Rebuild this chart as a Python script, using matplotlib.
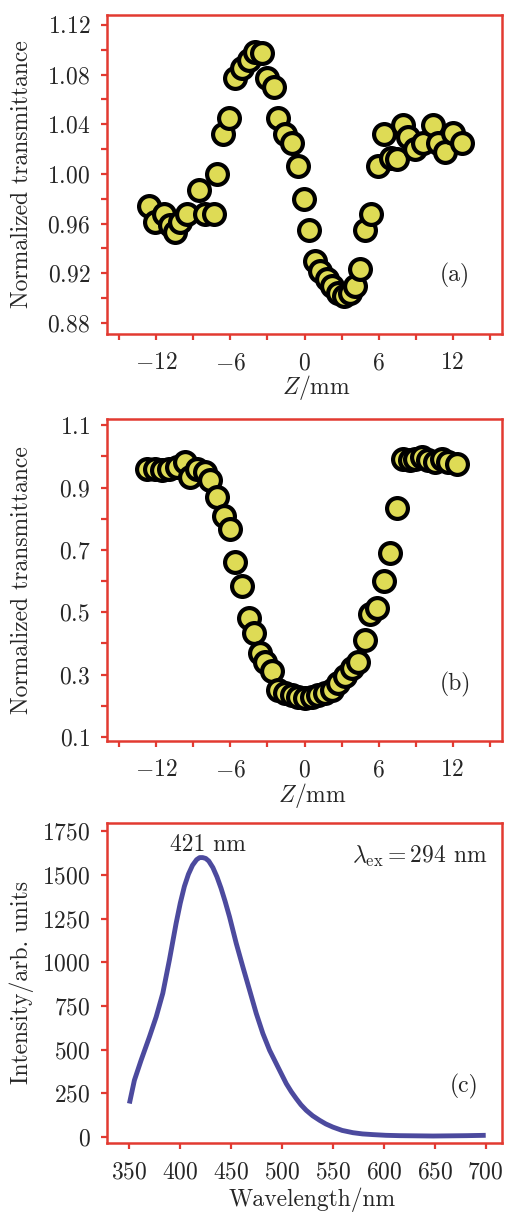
import numpy as np
import matplotlib
matplotlib.use("Agg")
import matplotlib.pyplot as plt
from matplotlib.ticker import MultipleLocator

plt.rcParams['font.family'] = 'serif'
plt.rcParams['font.serif'] = ['cmr10']
plt.rcParams['mathtext.fontset'] = 'cm'
plt.rcParams['axes.formatter.use_mathtext'] = True

# panel (a)
za = [-12.63, -12.09, -11.42, -10.87, -10.53, -10.06, -9.53, -8.58, -8.04, -7.37,
      -7.10, -6.64, -6.10, -5.61, -5.08, -4.53, -3.99, -3.46, -3.05, -2.51,
      -2.11, -1.56, -1.03, -0.54, -0.08, 0.38, 0.87, 1.27, 1.81, 2.21,
      2.75, 3.24, 3.70, 4.11, 4.51, 4.91, 5.40, 5.94, 6.48, 7.02,
      7.47, 7.94, 8.42, 8.96, 9.64, 10.45, 10.85, 11.39, 12.06, 12.74]
ta = [0.974, 0.961, 0.968, 0.959, 0.953, 0.961, 0.968, 0.987, 0.968, 0.968,
      1.000, 1.032, 1.045, 1.077, 1.085, 1.092, 1.098, 1.097, 1.077, 1.070,
      1.045, 1.032, 1.025, 1.006, 0.980, 0.955, 0.930, 0.922, 0.915, 0.910,
      0.904, 0.902, 0.904, 0.910, 0.923, 0.955, 0.968, 1.006, 1.032, 1.013,
      1.012, 1.039, 1.030, 1.020, 1.025, 1.039, 1.025, 1.018, 1.033, 1.025]

# panel (b)
zb = [-12.77, -12.09, -11.55, -11.01, -10.34, -9.66, -9.26, -8.72, -8.04, -7.64,
      -7.10, -6.56, -6.02, -5.61, -5.08, -4.53, -4.13, -3.59, -3.18, -2.65,
      -2.11, -1.56, -1.03, -0.49, 0.05, 0.59, 1.13, 1.67, 2.21, 2.75,
      3.29, 3.83, 4.37, 4.91, 5.32, 5.85, 6.40, 6.94, 7.47, 8.02,
      8.56, 8.96, 9.50, 10.04, 10.58, 11.12, 11.66, 12.33]
tb = [0.960, 0.960, 0.955, 0.960, 0.965, 0.982, 0.933, 0.960, 0.950, 0.923,
      0.869, 0.810, 0.767, 0.661, 0.584, 0.482, 0.433, 0.369, 0.342, 0.310,
      0.251, 0.240, 0.236, 0.229, 0.224, 0.229, 0.236, 0.240, 0.251, 0.272,
      0.294, 0.321, 0.342, 0.410, 0.496, 0.514, 0.600, 0.689, 0.834, 0.993,
      0.987, 0.993, 0.998, 0.987, 0.982, 0.993, 0.982, 0.975]

# panel (c): emission spectrum
wl = [350, 354.9, 361.5, 369.7, 376.3, 382.8, 389.3, 395.9, 400.0, 404.0,
      408.0, 412.0, 416.0, 419.0, 422.0, 425.0, 428.0, 432.0, 436.0, 440.0,
      444.0, 448.3, 454.9, 461.4, 468.0, 474.6, 481.1, 487.7, 494.2, 499.0,
      504.1, 509.0, 513.9, 518.5, 523.7, 530.0, 536.8, 543.0, 549.9, 559.0,
      569.6, 579.0, 589.3, 602.0, 615.5, 632.0, 648.3, 665.0, 681.0, 700.0]
inten = [192, 325, 440, 574, 688, 823, 1014, 1224, 1340, 1435,
         1505, 1556, 1588, 1600, 1600, 1595, 1580, 1543, 1490, 1425,
         1350, 1262, 1110, 975, 842, 708, 593, 497, 421, 365,
         306, 260, 220, 185, 153, 122, 96, 75, 57, 38,
         25, 18, 14, 10, 8, 7, 6, 7, 8, 10]

red = '#e23a31'
txt = '#262626'
fs = 17

fig = plt.figure(figsize=(5.07, 12.12), dpi=100)
W, H = 507, 1212
boxes = [(334, 319), (741, 322), (1143, 320)]
L, R = 107, 502
axes = []
for bot, h in boxes:
    ax = fig.add_axes([L / W, 1 - bot / H, (R - L) / W, h / H])
    for s in ax.spines.values():
        s.set_color(red)
        s.set_linewidth(1.8)
    ax.tick_params(which='both', direction='out', color=red, width=1.6,
                   length=4, labelsize=fs, labelcolor=txt, top=False, right=False)
    ax.tick_params(axis='x', which='major', pad=9)
    ax.tick_params(axis='y', which='major', pad=8)
    axes.append(ax)

ax1, ax2, ax3 = axes

ax1.plot(za, ta, 'o', ms=15, mfc='#dedb55', mec='black', mew=3, ls='none')
ax1.set_xlim(-16, 16)
ax1.set_ylim(0.871, 1.128)
ax1.xaxis.set_major_locator(MultipleLocator(6))
ax1.xaxis.set_minor_locator(MultipleLocator(3))
ax1.yaxis.set_major_locator(MultipleLocator(0.04))
ax1.yaxis.set_minor_locator(MultipleLocator(0.02))
ax1.text(12.2, 0.918, '(a)', fontsize=fs, color=txt, ha='center', va='center')

ax2.plot(zb, tb, 'o', ms=15, mfc='#dedb55', mec='black', mew=3, ls='none')
ax2.set_xlim(-16, 16)
ax2.set_ylim(0.087, 1.12)
ax2.xaxis.set_major_locator(MultipleLocator(6))
ax2.xaxis.set_minor_locator(MultipleLocator(3))
ax2.set_yticks([0.1, 0.3, 0.5, 0.7, 0.9, 1.1])
ax2.yaxis.set_minor_locator(MultipleLocator(0.1))
ax2.text(12.2, 0.267, '(b)', fontsize=fs, color=txt, ha='center', va='center')

ax3.plot(wl, inten, color='#4c4a9e', lw=3.5, solid_capstyle='butt',
         solid_joinstyle='round')
ax3.set_xlim(328, 716)
ax3.set_ylim(-34, 1798)
ax3.set_xticks(np.arange(350, 701, 50))
ax3.set_yticks(np.arange(0, 1751, 250))
ax3.text(427, 1673, '421 nm', fontsize=fs, color=txt, ha='center', va='center')
ax3.text(702, 1606, r'$\lambda_{\rm ex} = 294$ nm', fontsize=fs, color=txt,
         ha='right', va='center')
ax3.text(679, 287, '(c)', fontsize=fs, color=txt, ha='center', va='center')

for ax in (ax1, ax2):
    ax.set_ylabel('Normalized transmittance', fontsize=fs, color=txt, va='center')
    ax.set_xlabel(r'$Z$/mm', fontsize=fs, color=txt, va='center')
ax3.set_ylabel('Intensity/arb. units', fontsize=fs, color=txt, va='center')
ax3.set_xlabel('Wavelength/nm', fontsize=fs, color=txt, va='center')

ax1.yaxis.set_label_coords(-0.215, 0.5)
ax2.yaxis.set_label_coords(-0.215, 0.5)
ax3.yaxis.set_label_coords(-0.215, 0.5)
ax1.xaxis.set_label_coords(0.53, -0.169)
ax2.xaxis.set_label_coords(0.52, -0.168)
ax3.xaxis.set_label_coords(0.52, -0.178)

fig.savefig('out.png', dpi=100)
